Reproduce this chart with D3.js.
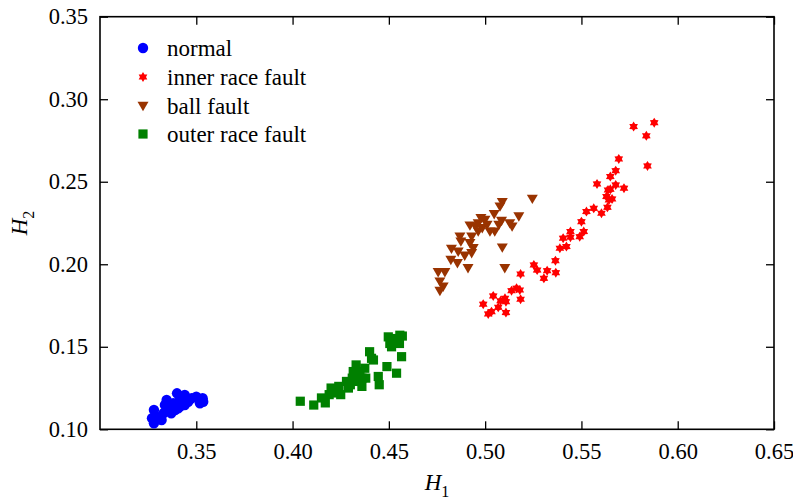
<!DOCTYPE html>
<html>
<head>
<meta charset="utf-8">
<script src="https://cdn.jsdelivr.net/npm/d3@7"></script>
<style>
  html, body { margin: 0; padding: 0; background: #fff; }
  svg { display: block; }
</style>
</head>
<body>
<svg id="chart" width="793" height="502" font-family="Liberation Serif"></svg>
<script>
// ---- Data (H1, H2) ----
const seriesNames = ["normal", "inner race fault", "ball fault", "outer race fault"];
const seriesColors = ["#0000ff", "#ff0000", "#993300", "#008000"];

const normal = [
  [0.327,0.1067],[0.328,0.1036],[0.328,0.1117],[0.332,0.1056],[0.333,0.1097],[0.3346,0.1178],
  [0.3355,0.1137],[0.337,0.1097],[0.338,0.1158],[0.340,0.1218],[0.3406,0.1127],[0.3415,0.1188],
  [0.343,0.1158],[0.344,0.1208],[0.3458,0.1167],[0.3476,0.1188],[0.350,0.1198],[0.3519,0.1158],
  [0.3533,0.1188],[0.3536,0.1167],[0.339,0.1117],[0.3363,0.1137],[0.3415,0.1137],[0.3337,0.1147],
  [0.3294,0.1076],[0.344,0.1147]
];

const innerRace = [
  [0.499,0.1758],[0.5016,0.1699],[0.5033,0.1713],[0.5042,0.1808],[0.5068,0.1739],[0.508,0.1779],
  [0.5103,0.1794],[0.5108,0.1773],[0.5108,0.1707],[0.5137,0.1840],[0.5163,0.1855],[0.518,0.1844],
  [0.5184,0.1788],[0.5184,0.1941],[0.5253,0.1996],[0.527,0.1965],[0.5305,0.1915],[0.5322,0.1961],
  [0.5365,0.2022],[0.5367,0.1949],[0.5388,0.2097],[0.5405,0.2158],[0.5422,0.2107],[0.5443,0.2198],
  [0.5443,0.2164],[0.5491,0.2167],[0.55,0.2258],[0.5512,0.2198],[0.5526,0.2319],[0.5564,0.2339],
  [0.5604,0.2309],[0.5635,0.2345],[0.5581,0.2487],[0.563,0.2410],[0.5643,0.2390],[0.5638,0.2450],
  [0.565,0.2454],[0.5659,0.2396],[0.5678,0.2481],[0.565,0.2531],[0.5678,0.2567],[0.5694,0.2638],
  [0.5721,0.2461],[0.5771,0.2834],[0.5837,0.2778],[0.5878,0.2858],[0.5843,0.2596]
];

const ballFault = [
  [0.5245,0.2396],[0.5089,0.2376],[0.5077,0.2349],[0.5047,0.2303],[0.5175,0.2289],[0.5085,0.2262],
  [0.5128,0.2248],[0.514,0.2228],[0.4978,0.2279],[0.4964,0.2248],[0.4999,0.2268],[0.5025,0.2198],
  [0.505,0.2198],[0.5071,0.2238],[0.4921,0.2234],[0.4964,0.2198],[0.493,0.2167],[0.4869,0.2167],
  [0.4874,0.2137],[0.4921,0.2127],[0.4938,0.2097],[0.4825,0.2093],[0.486,0.2076],[0.4894,0.2052],
  [0.493,0.2067],[0.5089,0.2101],[0.4822,0.2026],[0.4856,0.2006],[0.4911,0.1976],[0.5102,0.1976],
  [0.4756,0.1952],[0.4791,0.1952],[0.4765,0.1895],[0.4782,0.1864],[0.4765,0.1838],[0.495,0.2228],
  [0.4985,0.2218],[0.501,0.2238]
];

const outerRace = [
  [0.404,0.117],[0.411,0.1147],[0.415,0.119],[0.417,0.116],[0.420,0.125],[0.421,0.122],
  [0.424,0.124],[0.425,0.121],[0.428,0.129],[0.429,0.125],[0.431,0.131],[0.432,0.133],
  [0.433,0.139],[0.434,0.129],[0.435,0.135],[0.436,0.126],[0.4375,0.137],[0.438,0.131],
  [0.440,0.147],[0.441,0.143],[0.442,0.142],[0.4445,0.132],[0.445,0.127],[0.449,0.138],
  [0.4497,0.156],[0.4514,0.150],[0.452,0.155],[0.454,0.134],[0.4555,0.152],[0.4566,0.144],
  [0.457,0.1565],[0.4315,0.135],[0.436,0.131],[0.430,0.127],[0.419,0.121],[0.424,0.126],
  [0.4557,0.157],[0.4505,0.152]
];

const xTicks = [0.35, 0.40, 0.45, 0.50, 0.55, 0.60, 0.65];
const yTicks = [0.10, 0.15, 0.20, 0.25, 0.30, 0.35];

// ---- Layout ----
const FONT = "Liberation Serif";
const mLeft = 100, mRight = 774, mTop = 16.7, mBottom = 429.3;
const svg = d3.select("#chart");
const x = d3.scaleLinear().domain([0.30, 0.65]).range([mLeft, mRight]);
const y = d3.scaleLinear().domain([0.10, 0.35]).range([mBottom, mTop]);
const fmt = d3.format(".2f");

// ---- Markers ----
function hexagram(r) {
  const pts = [];
  for (let i = 0; i < 12; i++) {
    const a = Math.PI / 6 * i - Math.PI / 2;
    const rr = (i % 2 === 0) ? r : r * 0.6;
    pts.push([rr * Math.cos(a), rr * Math.sin(a)]);
  }
  return "M" + pts.map(p => p[0].toFixed(2) + "," + p[1].toFixed(2)).join("L") + "Z";
}
const markerPaths = [
  d3.symbol().type(d3.symbolCircle).size(Math.PI * 5.2 * 5.2)(),
  hexagram(5),
  "M-5.5,-4.2L5.5,-4.2L0,5.2Z",
  "M-4.6,-4.6L4.6,-4.6L4.6,4.6L-4.6,4.6Z"
];
const allSeries = [normal, innerRace, ballFault, outerRace];

// ---- Axes ----
const gB = svg.append("g").attr("transform", `translate(0,${mBottom})`)
  .call(d3.axisBottom(x).tickValues(xTicks).tickFormat(fmt).tickSizeInner(-8).tickSizeOuter(0).tickPadding(14));
const gT = svg.append("g").attr("transform", `translate(0,${mTop})`)
  .call(d3.axisTop(x).tickValues(xTicks).tickFormat("").tickSizeInner(-8).tickSizeOuter(0));
const gL = svg.append("g").attr("transform", `translate(${mLeft},0)`)
  .call(d3.axisLeft(y).tickValues(yTicks).tickFormat(fmt).tickSizeInner(-8).tickSizeOuter(0).tickPadding(12));
const gR = svg.append("g").attr("transform", `translate(${mRight},0)`)
  .call(d3.axisRight(y).tickValues(yTicks).tickFormat("").tickSizeInner(-8).tickSizeOuter(0));
[gB, gT, gL, gR].forEach(g => {
  g.attr("font-family", FONT).attr("font-size", 22.5);
  g.select(".domain").remove();
  g.selectAll(".tick line").attr("stroke", "#000").attr("stroke-width", 1.3);
  g.selectAll(".tick text").attr("fill", "#000");
});
gB.selectAll(".tick text").attr("dy", "0.71em");

// frame
svg.append("rect").attr("x", mLeft).attr("y", mTop)
  .attr("width", mRight - mLeft).attr("height", mBottom - mTop)
  .attr("fill", "none").attr("stroke", "#000").attr("stroke-width", 1.6);

// ---- Points ----
allSeries.forEach((data, i) => {
  svg.append("g").selectAll("path").data(data).join("path")
    .attr("d", markerPaths[i])
    .attr("transform", d => `translate(${x(d[0])},${y(d[1])})`)
    .attr("fill", seriesColors[i]);
});

// ---- Legend ----
const legendY = [48, 77, 106, 134];
const lg = svg.append("g").attr("font-family", FONT).attr("font-size", 23);
seriesNames.forEach((name, i) => {
  lg.append("path").attr("d", markerPaths[i])
    .attr("transform", `translate(143,${legendY[i]})`)
    .attr("fill", seriesColors[i]);
  lg.append("text").attr("x", 167).attr("y", legendY[i]).attr("dy", "0.33em")
    .attr("fill", "#000").text(name);
});

// ---- Axis titles ----
const xt = svg.append("text").attr("x", 437).attr("y", 490).attr("text-anchor", "middle")
  .attr("font-family", FONT).attr("font-size", 23).attr("fill", "#000");
xt.append("tspan").attr("font-style", "italic").text("H");
xt.append("tspan").attr("font-size", 16).attr("dy", 7).text("1");

const yt = svg.append("text").attr("transform", `translate(27,${(mTop + mBottom) / 2}) rotate(-90)`)
  .attr("text-anchor", "middle").attr("font-family", FONT).attr("font-size", 23).attr("fill", "#000");
yt.append("tspan").attr("font-style", "italic").text("H");
yt.append("tspan").attr("font-size", 16).attr("dy", 7).text("2");
</script>
</body>
</html>
